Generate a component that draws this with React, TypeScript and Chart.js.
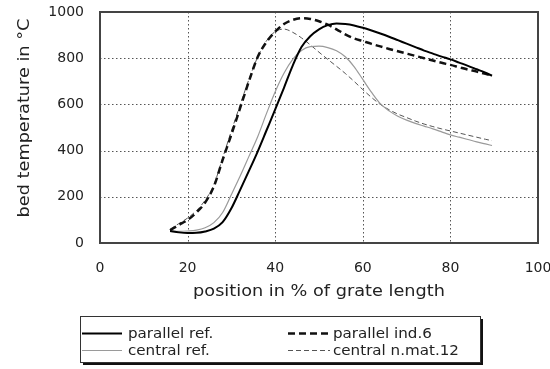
import React, { useEffect, useRef } from 'react';
import { Chart, registerables } from 'chart.js';

Chart.register(...registerables);

// ---- data ----
const positions = [16, 18, 20, 22, 24, 26, 28, 30, 32, 34, 36, 38, 40, 42, 44, 46, 48, 50, 52, 54, 56, 58, 60, 62, 64, 66, 68, 70, 72, 74, 76, 78, 80, 82, 84, 86, 88, 89.5];

const parallelRef = [52, 46, 43, 44, 50, 62, 90, 150, 230, 312, 396, 487, 578, 672, 768, 848, 895, 925, 943, 950, 948, 942, 932, 920, 907, 893, 878, 863, 848, 833, 820, 807, 795, 781, 767, 752, 737, 724];

const parallelInd6 = [55, 78, 100, 132, 175, 245, 360, 470, 585, 700, 805, 870, 915, 948, 966, 973, 970, 960, 945, 925, 903, 886, 874, 862, 851, 840, 830, 820, 810, 800, 790, 780, 771, 761, 751, 742, 732, 724];

const centralRef = [52, 50, 52, 56, 66, 88, 132, 210, 290, 375, 460, 560, 655, 735, 795, 833, 850, 852, 846, 832, 806, 764, 708, 652, 603, 572, 549, 532, 518, 506, 494, 481, 468, 458, 448, 438, 429, 422];

const centralNmat12 = [60, 84, 108, 140, 185, 252, 368, 485, 598, 708, 805, 875, 915, 926, 912, 888, 858, 826, 795, 765, 734, 700, 664, 630, 600, 577, 558, 543, 528, 515, 504, 494, 485, 476, 467, 458, 449, 443];

const seriesLabels = ['parallel ref.', 'parallel ind.6', 'central ref.', 'central n.mat.12'];
const xTickValues = [0, 20, 40, 60, 80, 100];
const yTickValues = [0, 200, 400, 600, 800, 1000];
const xTitle = 'position in % of grate length';
const yTitle = 'bed temperature in \u00B0C';

const FONT = 'DejaVu Sans';
const STRETCH = 1.18;

function toPoints(ys: number[]) {
  return positions.map((x, i) => ({ x, y: ys[i] }));
}

const gridPlugin = {
  id: 'dotGrid',
  beforeDatasetsDraw(chart: any) {
    const ctx = chart.ctx as any;
    const xs = chart.scales.x;
    const ys = chart.scales.y;
    const L = Math.round(xs.getPixelForValue(0));
    const R = Math.round(xs.getPixelForValue(100));
    const T = Math.round(ys.getPixelForValue(1000));
    const B = Math.round(ys.getPixelForValue(0));
    ctx.save();
    ctx.fillStyle = '#555';
    xTickValues.forEach((v) => {
      const px = Math.round(xs.getPixelForValue(v));
      for (let y = T; y <= B; y += 4) ctx.fillRect(px, y, 1, 1.5);
    });
    yTickValues.forEach((v) => {
      const py = Math.round(ys.getPixelForValue(v));
      for (let x = L; x <= R; x += 4) ctx.fillRect(x, py, 1.5, 1);
    });
    ctx.fillStyle = '#444';
    ctx.fillRect(L - 1, T - 1, R - L + 2, 2);
    ctx.fillRect(L - 1, B - 1, R - L + 2, 2);
    ctx.fillRect(L - 1, T - 1, 2, B - T + 2);
    ctx.fillRect(R - 1, T - 1, 2, B - T + 2);
    ctx.restore();
  },
};

const decorPlugin = {
  id: 'decor',
  afterDraw(chart: any) {
    const ctx = chart.ctx as any;
    const xs = chart.scales.x;
    const L = xs.getPixelForValue(0);
    const R = xs.getPixelForValue(100);
    ctx.save();
    // titles
    ctx.fillStyle = '#222';
    ctx.font = `15px "${FONT}"`;
    ctx.textBaseline = 'middle';
    ctx.save();
    ctx.translate((L + R) / 2, 292);
    ctx.scale(STRETCH, 1);
    ctx.textAlign = 'center';
    ctx.fillText(xTitle, 0, 0);
    ctx.restore();
    ctx.save();
    ctx.translate(25, 118);
    ctx.rotate(-Math.PI / 2);
    ctx.scale(STRETCH, 1);
    ctx.textAlign = 'center';
    ctx.fillText(yTitle, 0, 0);
    ctx.restore();

    // legend box
    const bx = 80, by = 316, bw = 400, bh = 46;
    ctx.fillStyle = '#111';
    ctx.fillRect(bx + 3, by + 3, bw, bh);
    ctx.fillStyle = '#fff';
    ctx.fillRect(bx, by, bw, bh);
    ctx.strokeStyle = '#333';
    ctx.lineWidth = 1;
    ctx.strokeRect(bx + 0.5, by + 0.5, bw, bh);
    const cols = [{ l0: 82, l1: 122, t: 128 }, { l0: 288, l1: 330, t: 333 }];
    const rows = [333, 350];
    const layout = [
      { ds: 0, c: 0, r: 0 },
      { ds: 1, c: 1, r: 0 },
      { ds: 2, c: 0, r: 1 },
      { ds: 3, c: 1, r: 1 },
    ];
    ctx.font = `14px "${FONT}"`;
    layout.forEach(({ ds, c, r }) => {
      const d = chart.data.datasets[ds];
      const col = cols[c];
      const y = rows[r] + 0.5;
      ctx.beginPath();
      ctx.strokeStyle = d.borderColor;
      ctx.lineWidth = d.borderWidth;
      ctx.setLineDash(d.borderDash || []);
      ctx.moveTo(col.l0, y);
      ctx.lineTo(col.l1, y);
      ctx.stroke();
      ctx.setLineDash([]);
      ctx.fillStyle = '#222';
      ctx.save();
      ctx.translate(col.t, rows[r] + 1);
      ctx.scale(1.08, 1);
      ctx.textAlign = 'left';
      ctx.fillText(d.label, 0, 0);
      ctx.restore();
    });
    ctx.restore();
  },
};

export default function App() {
  const canvasRef = useRef<HTMLCanvasElement | null>(null);

  useEffect(() => {
    document.body.style.margin = '0';
    const canvas = canvasRef.current;
    if (!canvas) return;
    const chart = new Chart(canvas, {
      type: 'line',
      data: {
        datasets: [
          {
            label: seriesLabels[0],
            data: toPoints(parallelRef),
            borderColor: '#000',
            borderWidth: 2,
            pointRadius: 0,
            cubicInterpolationMode: 'monotone',
            fill: false,
          },
          {
            label: seriesLabels[1],
            data: toPoints(parallelInd6),
            borderColor: '#111',
            borderWidth: 2.5,
            borderDash: [7, 4],
            pointRadius: 0,
            cubicInterpolationMode: 'monotone',
            fill: false,
          },
          {
            label: seriesLabels[2],
            data: toPoints(centralRef),
            borderColor: '#9a9a9a',
            borderWidth: 1.2,
            pointRadius: 0,
            cubicInterpolationMode: 'monotone',
            fill: false,
          },
          {
            label: seriesLabels[3],
            data: toPoints(centralNmat12),
            borderColor: '#555',
            borderWidth: 1,
            borderDash: [5, 3],
            pointRadius: 0,
            cubicInterpolationMode: 'monotone',
            fill: false,
          },
        ],
      },
      options: {
        animation: false,
        responsive: false,
        devicePixelRatio: 1,
        layout: { padding: { left: 0, right: 12, top: 12, bottom: 66 } },
        plugins: {
          legend: { display: false },
          tooltip: { enabled: false },
        },
        scales: {
          x: {
            type: 'linear',
            min: 0,
            max: 100,
            afterBuildTicks: (scale: any) => {
              scale.ticks = xTickValues.map((v) => ({ value: v }));
            },
            afterFit: (scale: any) => {
              scale.height = 60;
              scale.paddingLeft = 0;
              scale.paddingRight = 0;
            },
            border: { display: false },
            grid: { display: false },
            ticks: {
              padding: 9,
              color: '#222',
              font: { family: FONT, size: 14 },
              maxRotation: 0,
              autoSkip: false,
              callback: (v: any) => String(v),
            },
          },
          y: {
            type: 'linear',
            min: 0,
            max: 1000,
            afterBuildTicks: (scale: any) => {
              scale.ticks = yTickValues.map((v) => ({ value: v }));
            },
            afterFit: (scale: any) => {
              scale.width = 100;
              scale.paddingTop = 0;
              scale.paddingBottom = 0;
            },
            border: { display: false },
            grid: { display: false },
            ticks: {
              padding: 8,
              color: '#222',
              font: { family: FONT, size: 14 },
              autoSkip: false,
              callback: (v: any) => String(v),
            },
          },
        },
      },
      plugins: [gridPlugin, decorPlugin],
    } as any);

    return () => chart.destroy();
  }, []);

  return (
    <div style={{ width: 550, height: 369, position: 'relative' }}>
      <canvas ref={canvasRef} width={550} height={369} style={{ display: 'block', width: 550, height: 369 }} />
    </div>
  );
}
